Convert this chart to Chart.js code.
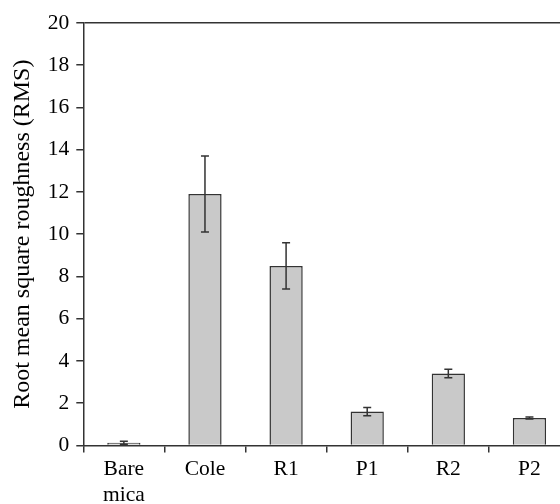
<!DOCTYPE html>
<html>
<head>
<meta charset="utf-8">
<script src="https://cdn.jsdelivr.net/npm/chart.js@4/dist/chart.umd.min.js"></script>
<style>
html,body{margin:0;padding:0;background:#fff;overflow:hidden;}
#wrap{position:relative;width:570px;height:512px;}
</style>
</head>
<body>
<div id="wrap"><canvas id="c"></canvas></div>
<script>
const categories = [["Bare","mica"], "Cole", "R1", "P1", "R2", "P2"];
const rmsValues = [0.13, 11.9, 8.5, 1.6, 3.4, 1.3];
const rmsErrors = [0.07, 1.8, 1.1, 0.2, 0.2, 0.05];
const yTicks = [0, 2, 4, 6, 8, 10, 12, 14, 16, 18, 20];

const ink = '#333';
const errorBars = {
  id: 'errorBars',
  afterDatasetsDraw(chart) {
    const ctx = chart.ctx;
    const meta = chart.getDatasetMeta(0);
    const y = chart.scales.y;
    ctx.save();
    ctx.strokeStyle = ink;
    ctx.lineWidth = 1.5;
    meta.data.forEach((bar, i) => {
      const x = bar.x;
      const top = y.getPixelForValue(rmsValues[i] + rmsErrors[i]);
      const bot = y.getPixelForValue(rmsValues[i] - rmsErrors[i]);
      ctx.beginPath();
      ctx.moveTo(x, top); ctx.lineTo(x, bot);
      ctx.moveTo(x - 4, top); ctx.lineTo(x + 4, top);
      ctx.moveTo(x - 4, bot); ctx.lineTo(x + 4, bot);
      ctx.stroke();
    });
    ctx.restore();
  }
};

new Chart(document.getElementById('c'), {
  type: 'bar',
  data: {
    labels: categories,
    datasets: [{
      data: rmsValues,
      backgroundColor: '#c9c9c9',
      borderColor: ink,
      borderWidth: 1.5,
      barPercentage: 0.41,
      categoryPercentage: 1.0
    }]
  },
  options: {
    responsive: true,
    maintainAspectRatio: false,
    animation: false,
    devicePixelRatio: 1,
    layout: { padding: { top: 23, left: 4, right: 0, bottom: 0 } },
    plugins: { legend: { display: false }, tooltip: { enabled: false } },
    scales: {
      x: {
        grid: { offset: true, drawOnChartArea: false, color: ink, tickColor: ink, tickLength: 7, lineWidth: 1.5 },
        border: { color: ink, width: 1.5 },
        ticks: { color: '#000', font: { family: 'Liberation Serif', size: 21.5 }, padding: 4, maxRotation: 0, autoSkip: false }
      },
      y: {
        min: 0, max: 20,
        afterBuildTicks(scale) { scale.ticks = yTicks.map(v => ({ value: v })); },
        grid: {
          color: c => (c.tick && c.tick.value === 20) ? ink : 'transparent',
          tickColor: ink, tickLength: 7, lineWidth: 1.5
        },
        border: { color: ink, width: 1.5 },
        ticks: { color: '#000', font: { family: 'Liberation Serif', size: 21.5 }, padding: 7 },
        title: { display: true, text: 'Root mean square roughness (RMS)', color: '#000', font: { family: 'Liberation Serif', size: 24 }, padding: { top: 4, bottom: 4 } }
      }
    }
  },
  plugins: [errorBars]
});
</script>
</body>
</html>
